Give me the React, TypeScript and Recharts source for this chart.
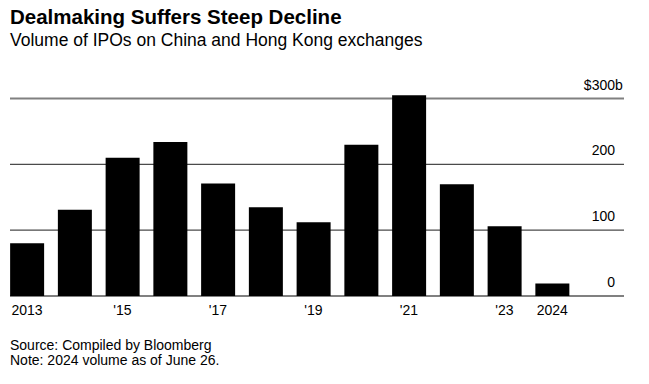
import React from "react";
import { BarChart, Bar, XAxis, YAxis, CartesianGrid } from "recharts";

const years = [2013, 2014, 2015, 2016, 2017, 2018, 2019, 2020, 2021, 2022, 2023, 2024];
const volumes = [80, 131, 210, 234, 171, 135, 112, 230, 305, 170, 106, 19];
const xTickYears = [2013, 2015, 2017, 2019, 2021, 2023, 2024];
const xTickLabels = ["2013", "'15", "'17", "'19", "'21", "'23", "2024"];
const yTicks = [0, 100, 200, 300];
const yTickLabels = ["0", "100", "200", "$300"];

const data = years.map((y, i) => ({ year: y, volume: volumes[i] }));

const FONT = "'Liberation Sans', Arial, Helvetica, sans-serif";

const YTick = (props: any) => {
  const { x, y, payload } = props;
  const idx = yTicks.indexOf(payload.value);
  const label = yTickLabels[idx];
  const isTop = idx === yTicks.length - 1;
  return (
    <g>
      <text x={x - 9} y={y - 9} textAnchor="end" fontSize={14} fill="#000" fontFamily={FONT}>
        {label}
      </text>
      {isTop && (
        <text x={x - 9} y={y - 9} textAnchor="start" fontSize={14} fill="#000" fontFamily={FONT}>
          b
        </text>
      )}
    </g>
  );
};

const XTick = (props: any) => {
  const { x, y, payload } = props;
  const idx = xTickYears.indexOf(payload.value);
  return (
    <text x={x} y={y} dy={19} textAnchor="middle" fontSize={14} fill="#000" fontFamily={FONT}>
      {xTickLabels[idx]}
    </text>
  );
};

const GridLine = (props: any) => {
  const { x1, x2, y1, y2, index } = props;
  const edge = index === 0 || index === yTicks.length - 1;
  return (
    <line
      x1={x1}
      x2={x2}
      y1={y1}
      y2={y2}
      stroke={edge ? "#808080" : "#4a4a4a"}
      strokeWidth={edge ? 2 : 1.3}
    />
  );
};

export default function App() {
  return (
    <div
      style={{
        position: "absolute",
        left: 0,
        top: 0,
        width: 649,
        height: 384,
        overflow: "hidden",
        background: "#fff",
        fontFamily: FONT,
        color: "#000",
      }}
    >
      <div style={{ position: "absolute", left: 10, top: 5, fontSize: 20.5, fontWeight: 700, whiteSpace: "nowrap" }}>
        Dealmaking Suffers Steep Decline
      </div>
      <div style={{ position: "absolute", left: 10, top: 30, fontSize: 17.5, whiteSpace: "nowrap" }}>
        Volume of IPOs on China and Hong Kong exchanges
      </div>
      <div style={{ position: "absolute", left: 0, top: 0 }}>
        <BarChart width={689} height={330} data={data} margin={{ top: 92, right: 25, bottom: 4, left: 10 }}>
          <CartesianGrid vertical={false} horizontal={GridLine as any} horizontalValues={yTicks} />
          <XAxis
            dataKey="year"
            type="number"
            domain={[2012.644, 2025.503]}
            ticks={xTickYears}
            axisLine={false}
            tickLine={false}
            tickSize={0}
            tickMargin={0}
            height={30}
            tick={<XTick />}
            interval={0}
            allowDataOverflow
          />
          <YAxis
            orientation="right"
            width={40}
            domain={[0, 310]}
            ticks={yTicks}
            axisLine={false}
            tickLine={false}
            tickSize={0}
            tickMargin={0}
            tick={<YTick />}
            interval={0}
          />
          <Bar dataKey="volume" fill="#000" barSize={34} isAnimationActive={false} />
        </BarChart>
      </div>
      <div style={{ position: "absolute", left: 10, top: 338, fontSize: 14, lineHeight: "15px", whiteSpace: "nowrap" }}>
        Source: Compiled by Bloomberg
        <br />
        Note: 2024 volume as of June 26.
      </div>
    </div>
  );
}
